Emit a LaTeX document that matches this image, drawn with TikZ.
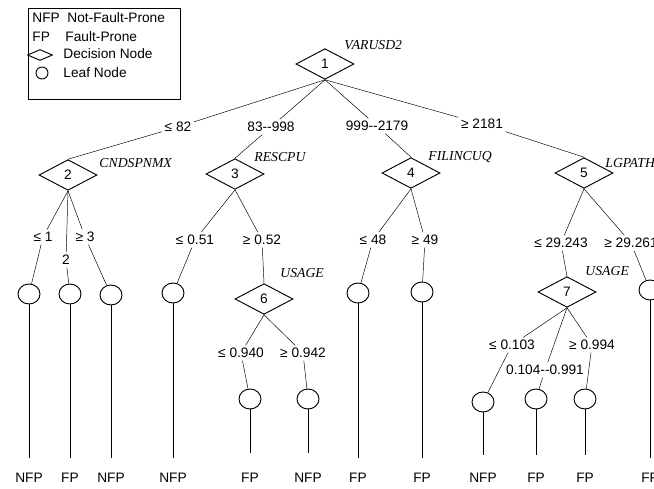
\documentclass[tikz,border=0pt]{standalone}
\usepackage{fontspec}
\setmainfont{Liberation Sans}
\newfontfamily\attrfont{Liberation Serif}
\usetikzlibrary{shapes.geometric,backgrounds}

\tikzset{
  dnode/.style={diamond, draw, minimum width=1.74cm, minimum height=0.92cm, inner sep=0pt, font=\fontsize{11.7}{14}\selectfont},
  leaf/.style={ellipse, draw, minimum width=0.66cm, minimum height=0.6cm, inner sep=0pt},
  attr/.style={anchor=west, inner sep=0pt, font=\attrfont\itshape\fontsize{11.7}{14}\selectfont},
  elab/.style={fill=white, inner sep=2pt, font=\fontsize{11.7}{14}\selectfont},
  cls/.style={inner sep=0pt, font=\fontsize{11.7}{14}\selectfont},
}

\begin{document}
\begin{tikzpicture}[x=0.03cm, y=-0.03cm, line width=0.8pt]
    \useasboundingbox (0,0) rectangle (654,489);

    % Legend
    \draw (28,8) rectangle (180,99);
    \node[cls, anchor=west] (kNFP) at (32,18) {NFP};
    \node[cls, anchor=west] (kNFPt) at (67,18) {Not-Fault-Prone};
    \node[cls, anchor=west] (kFP) at (32,37) {FP};
    \node[cls, anchor=west] (kFPt) at (65,37) {Fault-Prone};
    \node[diamond, draw, minimum width=0.75cm, minimum height=0.33cm, inner sep=0pt] (kdia) at (40,55) {};
    \node[cls, anchor=west] (kdiat) at (63,54) {Decision Node};
    \node[circle, draw, minimum size=0.36cm, inner sep=0pt] (kleaf) at (42,73) {};
    \node[cls, anchor=west] (kleaft) at (63,73) {Leaf Node};

    % Decision nodes
    \node[dnode] (n1) at (325,64) {1};
    \node[dnode] (n2) at (68,175) {2};
    \node[dnode] (n3) at (235,174) {3};
    \node[dnode] (n4) at (411,173) {4};
    \node[dnode] (n5) at (584,173) {5};
    \node[dnode] (n6) at (264,299) {6};
    \node[dnode] (n7) at (567,292) {7};

    % Split attributes
    \node[attr] (a1) at (344,45) {VARUSD2};
    \node[attr] (a2) at (99,163) {CNDSPNMX};
    \node[attr] (a3) at (254,157) {RESCPU};
    \node[attr] (a4) at (428,157) {FILINCUQ};
    \node[attr] (a5) at (605,163) {LGPATH};
    \node[attr] (a6) at (280,273) {USAGE};
    \node[attr] (a7) at (585,271) {USAGE};

    % Branch labels
    \node[elab] (e12) at (178,127) {≤ 82};
    \node[elab] (e13) at (271,127) {83-{}-998};
    \node[elab] (e14) at (377,126) {999-{}-2179};
    \node[elab] (e15) at (482,124) {≥ 2181};
    \node[elab] (e2a) at (43,237) {≤ 1};
    \node[elab] (e2b) at (66,260) {2};
    \node[elab] (e2c) at (85,237) {≥ 3};
    \node[elab] (e3d) at (195,240) {≤ 0.51};
    \node[elab] (e36) at (262,240) {≥ 0.52};
    \node[elab] (e6e) at (241,353) {≤ 0.940};
    \node[elab] (e6f) at (303,353) {≥ 0.942};
    \node[elab] (e4g) at (373,240) {≤ 48};
    \node[elab] (e4h) at (425,240) {≥ 49};
    \node[elab] (e57) at (561,243) {≤ 29.243};
    \node[elab] (e5i) at (631,243) {≥ 29.261};
    \node[elab] (e7j) at (512,345) {≤ 0.103};
    \node[elab] (e7k) at (545,370) {0.104-{}-0.991};
    \node[elab] (e7l) at (592,345) {≥ 0.994};

    % Leaves
    \node[leaf] (la) at (29,294) {};
    \node[leaf] (lb) at (70,294) {};
    \node[leaf] (lc) at (111,295) {};
    \node[leaf] (ld) at (173,293) {};
    \node[leaf] (le) at (250,399) {};
    \node[leaf] (lf) at (308,399) {};
    \node[leaf] (lg) at (358,293) {};
    \node[leaf] (lh) at (422,292) {};
    \node[leaf] (lj) at (483,402) {};
    \node[leaf] (lk) at (536,399) {};
    \node[leaf] (ll) at (585,399) {};
    \node[leaf] (li) at (650,290) {};

    % Classes
    \node[cls] (ta) at (29,478) {NFP};
    \node[cls] (tb) at (70,478) {FP};
    \node[cls] (tc) at (111,478) {NFP};
    \node[cls] (td) at (173,478) {NFP};
    \node[cls] (te) at (250,478) {FP};
    \node[cls] (tf) at (308,478) {NFP};
    \node[cls] (tg) at (358,478) {FP};
    \node[cls] (th) at (422,478) {FP};
    \node[cls] (tj) at (483,478) {NFP};
    \node[cls] (tk) at (536,478) {FP};
    \node[cls] (tl) at (585,478) {FP};
    \node[cls] (ti) at (650,478) {FP};

    \begin{pgfonlayer}{background}
    % Branches
    \draw (n1.south) -- (e12) (e12) -- (n2.north);
    \draw (n1.south) -- (e13) (e13) -- (n3.north);
    \draw (n1.south) -- (e14) (e14) -- (n4.north);
    \draw (n1.south) -- (e15) (e15) -- (n5.north);
    \draw (n2.south) -- (e2a) (e2a) -- (la);
    \draw (n2.south) -- (e2b) (e2b) -- (lb);
    \draw (n2.south) -- (e2c) (e2c) -- (lc);
    \draw (n3.south) -- (e3d) (e3d) -- (ld);
    \draw (n3.south) -- (e36) (e36) -- (n6.north);
    \draw (n6.south) -- (e6e) (e6e) -- (le);
    \draw (n6.south) -- (e6f) (e6f) -- (lf);
    \draw (n4.south) -- (e4g) (e4g) -- (lg);
    \draw (n4.south) -- (e4h) (e4h) -- (lh);
    \draw (n5.south) -- (e57) (e57) -- (n7.north);
    \draw (n5.south) -- (e5i) (e5i) -- (li);
    \draw (n7.south) -- (e7j) (e7j) -- (lj);
    \draw (n7.south) -- (e7k) (e7k) -- (lk);
    \draw (n7.south) -- (e7l) (e7l) -- (ll);

    % Leaf stems
    \foreach \l in {a,b,c,d,g,h,i}
        \draw[shorten >=13pt] (l\l) -- (t\l);
    \foreach \l in {e,f}
        \draw[shorten >=17pt] (l\l) -- (t\l);
    \foreach \l in {j,k,l}
        \draw[shorten >=15pt] (l\l) -- (t\l);
    \end{pgfonlayer}
\end{tikzpicture}
\end{document}
